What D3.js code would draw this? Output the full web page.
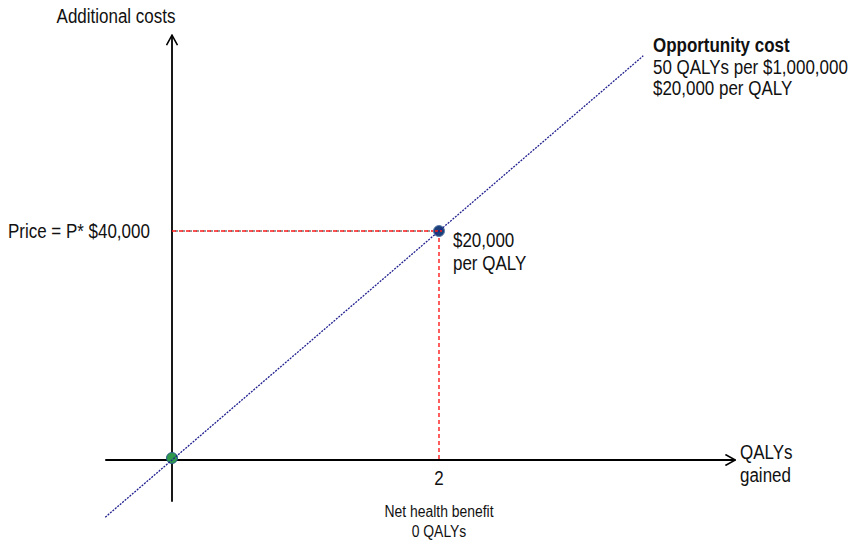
<!DOCTYPE html>
<html>
<head>
<meta charset="utf-8">
<script src="https://cdn.jsdelivr.net/npm/d3@7"></script>
<style>
  body { margin: 0; background: #fff; }
  svg { display: block; }
  text { font-family: "Liberation Sans", Arial, sans-serif; fill: #111; }
</style>
</head>
<body>
<svg id="chart" width="854" height="544"></svg>
<script>
// data
const priceQALYs = 2;          // QALYs gained at the price point
const priceCost = 40000;       // price P*
const thresholdPerQALY = 20000; // opportunity cost, $ per QALY
const lineQALYs = [-0.5, 3.53]; // extent of the threshold line
const xAxisExtent = [-0.5, 4.22];
const yAxisExtent = [-7300, 74200];
const oppLabels = ["Opportunity cost", "50 QALYs per $1,000,000", "$20,000 per QALY"];
const pointLabels = ["$20,000", "per QALY"];
const nhbLabels = ["Net health benefit", "0 QALYs"];
const xTitle = ["QALYs", "gained"];

const svg = d3.select("#chart");

// scales
const x = d3.scaleLinear().domain([0, 2]).range([172, 439]);
const y = d3.scaleLinear().domain([0, 40000]).range([460, 231]);

// narrow text: regular font squeezed horizontally (no Arial Narrow here)
const squeeze = 0.87;
function label(tx, ty, str, size, anchor, bold) {
    return svg.append("text")
        .attr("transform", `translate(${tx},${ty}) scale(${squeeze},1)`)
        .attr("text-anchor", anchor || "start")
        .attr("font-size", size)
        .attr("font-weight", bold ? "bold" : "normal")
        .text(str);
}

// arrow marker (open chevron)
svg.append("defs").append("marker")
    .attr("id", "arrow")
    .attr("viewBox", "0 0 12 12")
    .attr("refX", 11).attr("refY", 6)
    .attr("markerWidth", 12).attr("markerHeight", 12)
    .attr("markerUnits", "userSpaceOnUse")
    .attr("orient", "auto")
  .append("path")
    .attr("d", "M1,0.5 L11,6 L1,11.5")
    .attr("fill", "none")
    .attr("stroke", "#000")
    .attr("stroke-width", 1.6);

// axes
svg.append("line")
    .attr("x1", x(xAxisExtent[0])).attr("y1", y(0))
    .attr("x2", x(xAxisExtent[1])).attr("y2", y(0))
    .attr("stroke", "#000").attr("stroke-width", 1.8)
    .attr("marker-end", "url(#arrow)");

svg.append("line")
    .attr("x1", x(0)).attr("y1", y(yAxisExtent[0]))
    .attr("x2", x(0)).attr("y2", y(yAxisExtent[1]))
    .attr("stroke", "#000").attr("stroke-width", 1.8)
    .attr("marker-end", "url(#arrow)");

// red dashed guides to the price point
const guides = [
    [[0, priceCost], [priceQALYs, priceCost]],
    [[priceQALYs, priceCost], [priceQALYs, 0]]
];
guides.forEach((g, i) => {
    if (i === 0) {
        svg.append("line")
            .attr("x1", x(g[0][0])).attr("y1", y(g[0][1]))
            .attr("x2", x(g[1][0])).attr("y2", y(g[1][1]))
            .attr("stroke", "#333").attr("stroke-width", 1)
            .attr("stroke-dasharray", "3,4").attr("stroke-dashoffset", 4);
    }
    svg.append("line")
        .attr("x1", x(g[0][0])).attr("y1", y(g[0][1]))
        .attr("x2", x(g[1][0])).attr("y2", y(g[1][1]))
        .attr("stroke", "#ff1a1a").attr("stroke-width", 1.4)
        .attr("stroke-dasharray", "4,3");
});

// points
svg.append("circle")
    .attr("cx", x(0)).attr("cy", y(0) - 2).attr("r", 5.5)
    .attr("fill", "#2f9a4c").attr("stroke", "#2c5f8a").attr("stroke-width", 1);
svg.append("circle")
    .attr("cx", x(priceQALYs)).attr("cy", y(priceCost)).attr("r", 5.5)
    .attr("fill", "#1c3f7a").attr("stroke", "#5a7aa8").attr("stroke-width", 1);
svg.append("line")
    .attr("x1", x(priceQALYs) - 4).attr("y1", y(priceCost))
    .attr("x2", x(priceQALYs) + 3).attr("y2", y(priceCost))
    .attr("stroke", "#ff1a1a").attr("stroke-width", 1.3).attr("stroke-dasharray", "3,2");

// threshold line, over the points
svg.append("line")
    .attr("x1", x(lineQALYs[0])).attr("y1", y(lineQALYs[0] * thresholdPerQALY))
    .attr("x2", x(lineQALYs[1])).attr("y2", y(lineQALYs[1] * thresholdPerQALY))
    .attr("stroke", "#1f1f8f").attr("stroke-width", 1.3)
    .attr("stroke-dasharray", "2,1.2");

// text
const fs = 19.5;
label(116, 23, "Additional costs", fs, "middle");
label(8, y(priceCost) + 7, "Price = P* $40,000", fs);
label(x(priceQALYs), 485, "2", fs, "middle");

oppLabels.forEach((d, i) => label(653, 52 + i * 21.5, d, fs, "start", i === 0));
pointLabels.forEach((d, i) => label(453, 247 + i * 23, d, fs));
xTitle.forEach((d, i) => label(740, 459 + i * 23, d, fs));
nhbLabels.forEach((d, i) => label(x(priceQALYs), 517 + i * 20, d, 16, "middle"));
</script>
</body>
</html>
